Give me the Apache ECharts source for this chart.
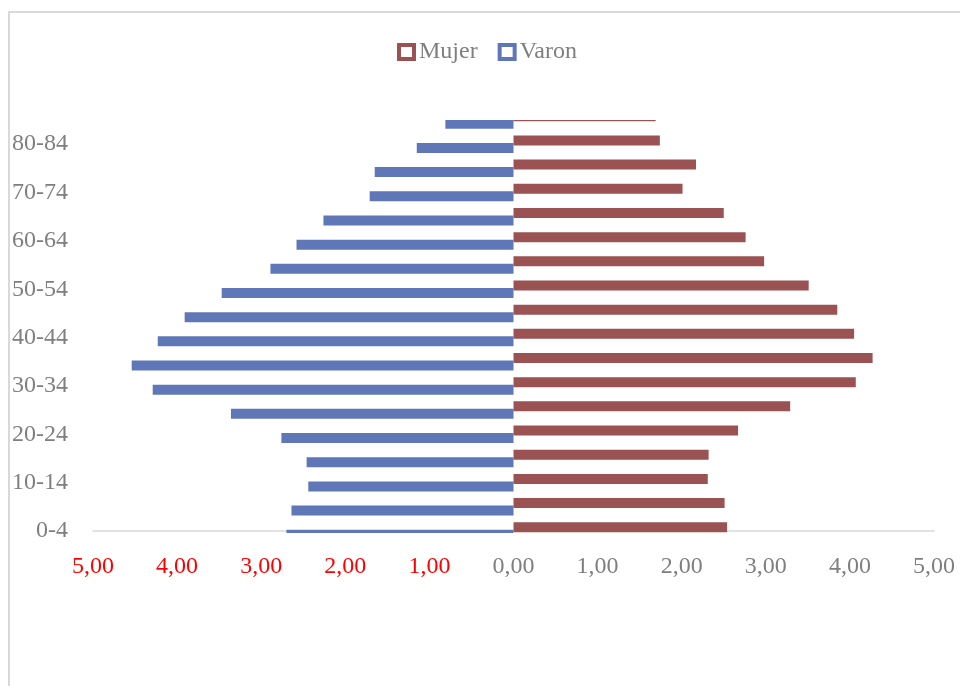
<!DOCTYPE html>
<html>
<head>
<meta charset="utf-8">
<script src="https://cdn.jsdelivr.net/npm/echarts@6/dist/echarts.min.js"></script>
<style>
  html, body { margin: 0; padding: 0; background: #fff; }
  #chart { width: 960px; height: 686px; }
</style>
</head>
<body>
<div id="chart"></div>
<script>
// age groups, bottom to top
const ageGroups = ['0-4', '5-9', '10-14', '15-19', '20-24', '25-29', '30-34', '35-39', '40-44',
  '45-49', '50-54', '55-59', '60-64', '65-69', '70-74', '75-79', '80-84', '85+']
// percentages
const mujer = [2.54, 2.51, 2.31, 2.32, 2.67, 3.29, 4.07, 4.27, 4.05, 3.85, 3.51, 2.98, 2.76, 2.50, 2.01, 2.17, 1.74, 1.69]
const varon = [2.70, 2.64, 2.44, 2.46, 2.76, 3.36, 4.29, 4.54, 4.23, 3.91, 3.47, 2.89, 2.58, 2.26, 1.71, 1.65, 1.15, 0.81]

const MUJER_COLOR = '#9b5252'
const VARON_COLOR = '#5f77b7'
const FONT = '"Liberation Serif", "Times New Roman", serif'

const chart = echarts.init(document.getElementById('chart'))

chart.setOption({
  animation: false,
  graphic: [
    {
      type: 'rect',
      shape: { x: 9, y: 12, width: 1000, height: 1000 },
      style: { fill: 'none', stroke: '#d9d9d9', lineWidth: 2 },
      silent: true,
    },
    // the end bars spill past the plot area (boundaryGap false), cut them off like the original
    {
      type: 'rect',
      z: 100,
      shape: { x: 85, y: 95, width: 860, height: 25 },
      style: { fill: '#fff' },
      silent: true,
    },
    {
      type: 'rect',
      z: 100,
      shape: { x: 85, y: 533, width: 860, height: 14 },
      style: { fill: '#fff' },
      silent: true,
    },
  ],
  legend: {
    left: 397,
    top: 40,
    padding: 0,
    itemWidth: 15,
    itemHeight: 14,
    itemGap: 20,
    textStyle: { fontFamily: FONT, fontSize: 24, color: '#7f7f7f' },
    data: [
      { name: 'Mujer', icon: 'rect', itemStyle: { color: '#fff', borderColor: MUJER_COLOR, borderWidth: 4 } },
      { name: 'Varon', icon: 'rect', itemStyle: { color: '#fff', borderColor: VARON_COLOR, borderWidth: 4 } },
    ],
  },
  grid: { left: 93, right: 26, top: 120, bottom: 155 },
  xAxis: {
    type: 'value',
    min: -5,
    max: 5,
    interval: 1,
    axisLine: { show: true, lineStyle: { color: '#d9d9d9', width: 1.5 } },
    axisTick: { show: false },
    splitLine: { show: false },
    axisLabel: {
      margin: 24,
      fontFamily: FONT,
      fontSize: 24,
      color: (v) => (Number(v) < 0 ? '#ff0000' : '#7f7f7f'),
      formatter: (v) => Math.abs(v).toFixed(2).replace('.', ','),
    },
  },
  yAxis: {
    type: 'category',
    data: ageGroups,
    boundaryGap: false,
    axisLine: { show: false },
    axisTick: { show: false },
    splitLine: { show: false },
    axisLabel: {
      interval: 1,
      margin: 25,
      padding: [4, 0, 0, 0],
      fontFamily: FONT,
      fontSize: 24,
      color: '#7f7f7f',
    },
  },
  series: [
    {
      name: 'Mujer',
      type: 'bar',
      data: mujer,
      barWidth: 10,
      barGap: '-25%',
      itemStyle: { color: MUJER_COLOR },
    },
    {
      name: 'Varon',
      type: 'bar',
      data: varon.map((v) => -v),
      barWidth: 10,
      itemStyle: { color: VARON_COLOR },
    },
  ],
})
</script>
</body>
</html>
